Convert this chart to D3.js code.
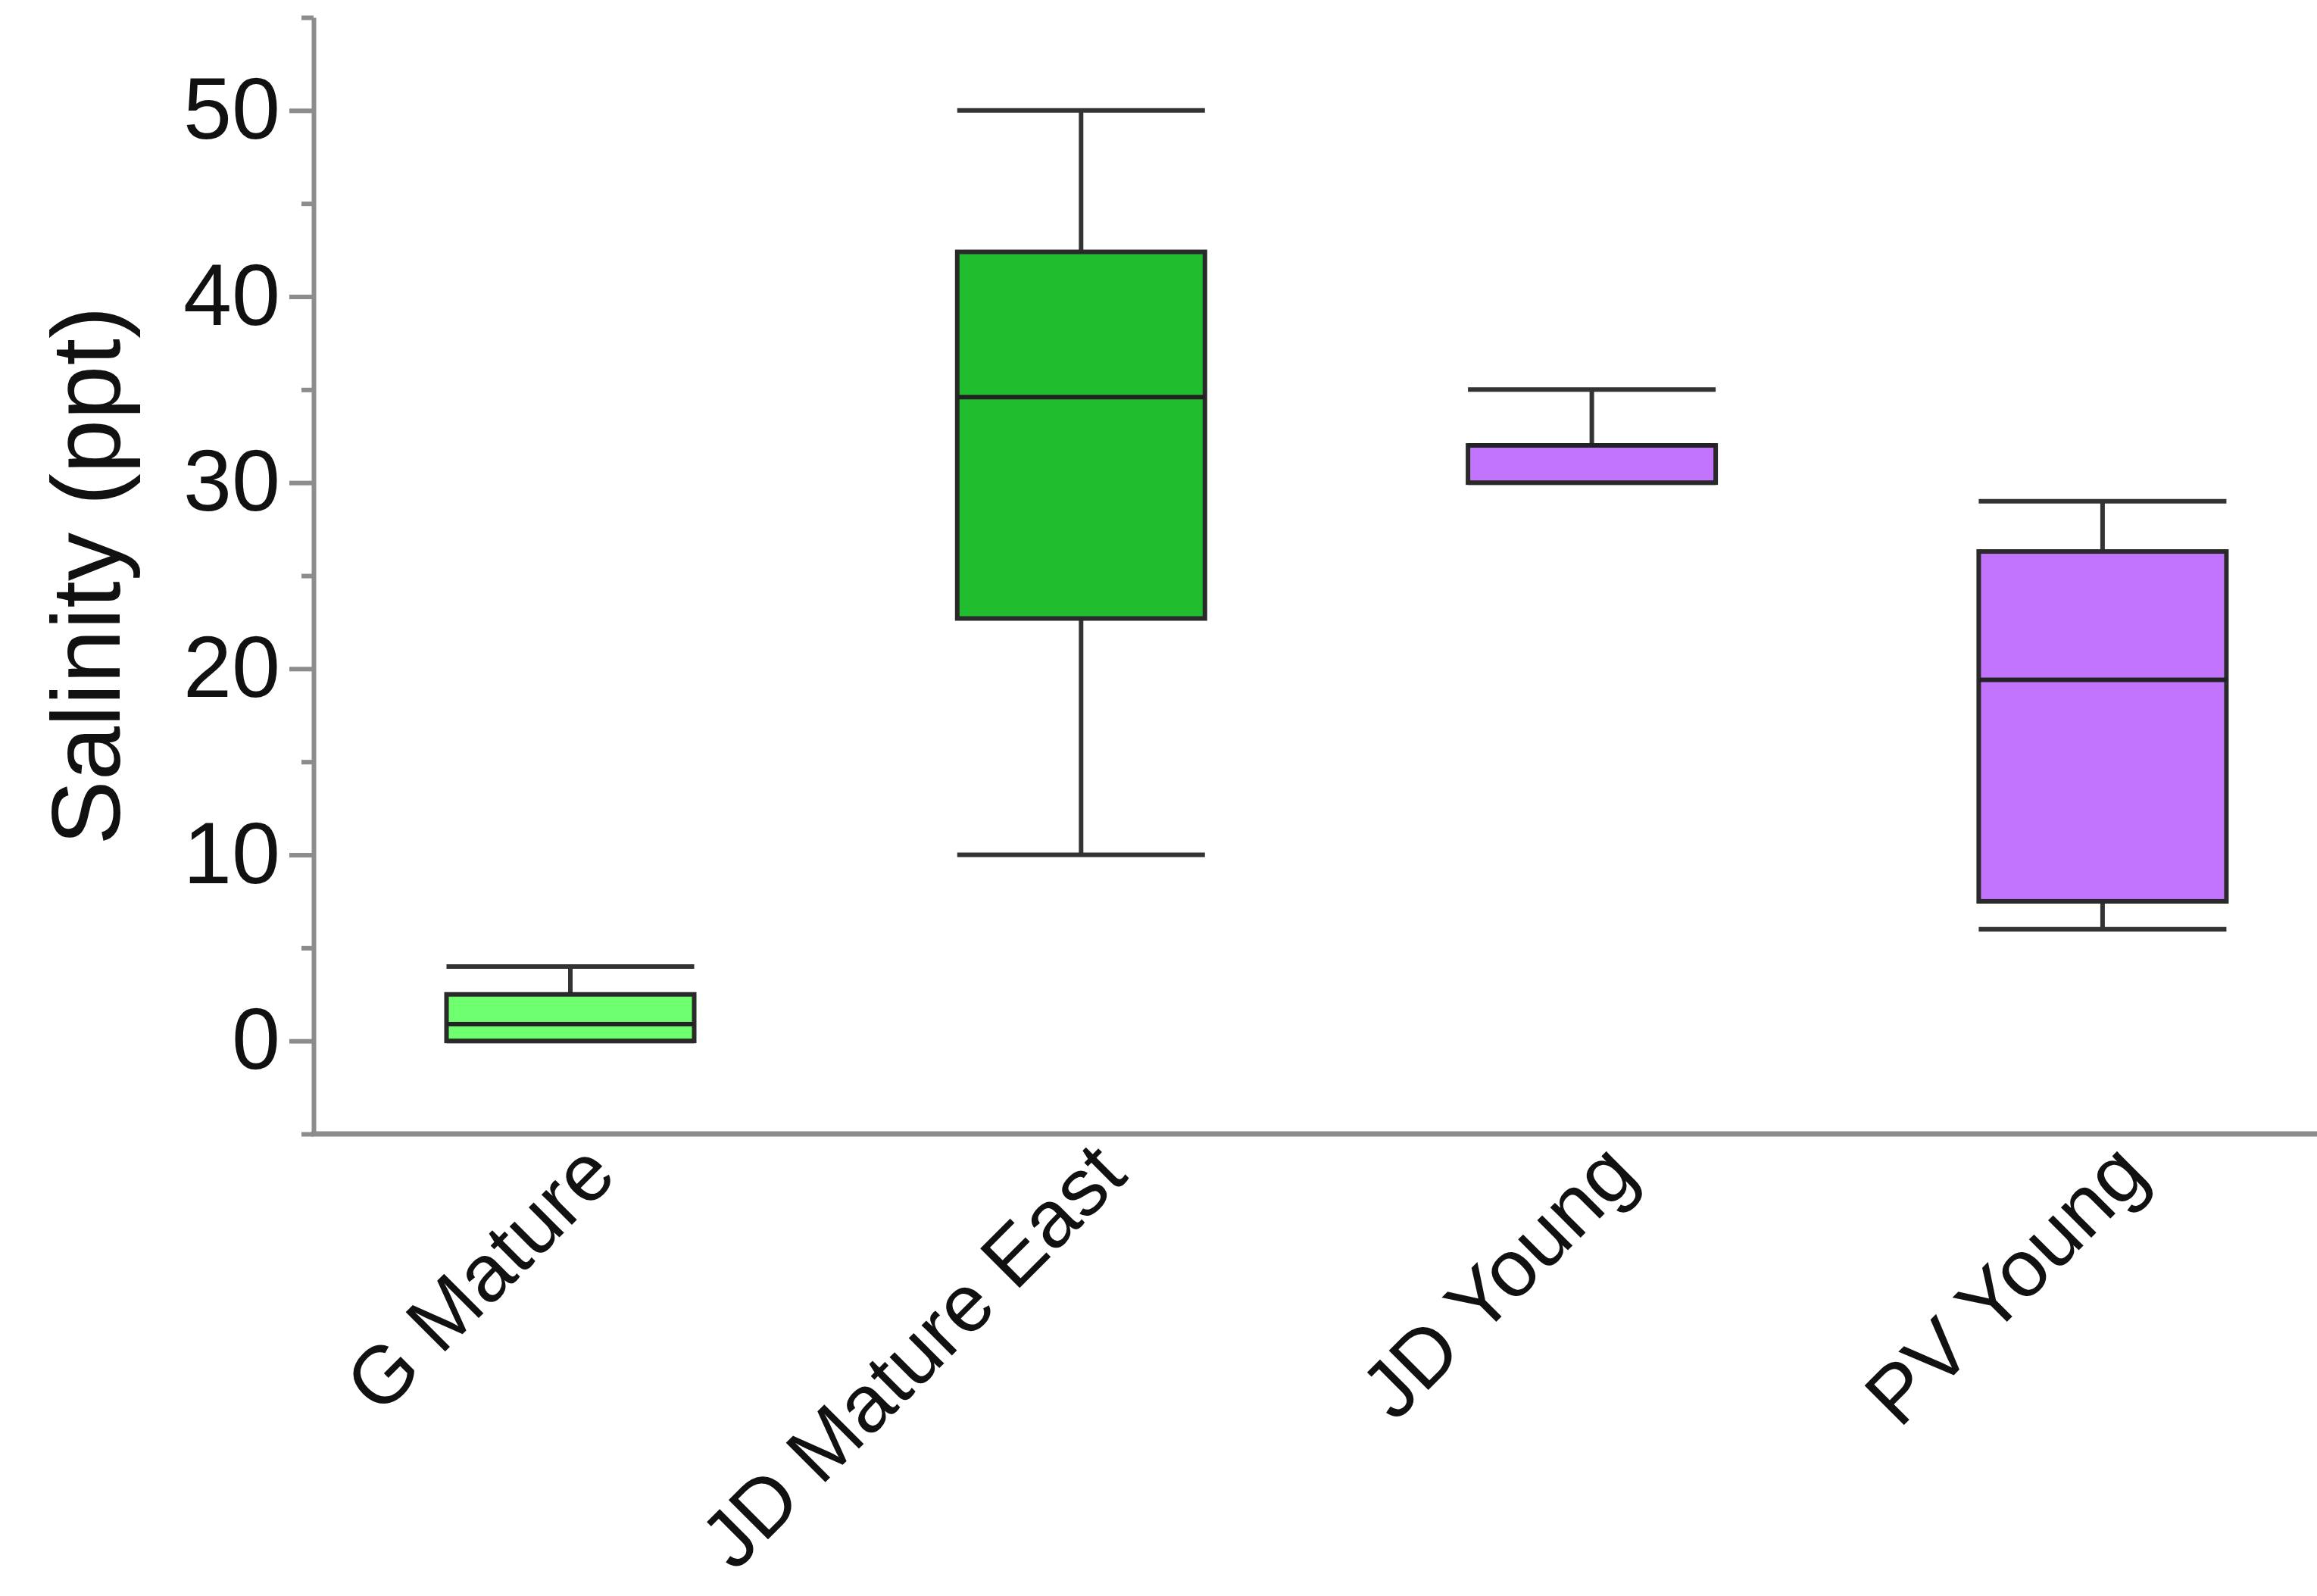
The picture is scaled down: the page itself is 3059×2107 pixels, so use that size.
<!DOCTYPE html>
<html>
<head>
<meta charset="utf-8">
<script src="https://cdn.jsdelivr.net/npm/d3@7"></script>
<style>
  body { margin: 0; background: #fff; }
  svg text { font-family: "Liberation Sans", Arial, sans-serif; fill: #111; }
</style>
</head>
<body>
<div id="chart"></div>
<script>
// box plot values (ppt)
const categories = ["G Mature", "JD Mature East", "JD Young", "PV Young"]
const whiskerLow = [0, 10, 30, 6]
const q1 = [0, 22.7, 30, 7.5]
const medians = [0.9, 34.6, 32, 19.4]
const q3 = [2.5, 42.4, 32, 26.3]
const whiskerHigh = [4, 50, 35, 29]
const boxColors = ["#6dff6d", "#20bd2e", "#c274ff", "#c274ff"]
const majorTicks = [0, 10, 20, 30, 40, 50]
const minorTicks = [-5, 5, 15, 25, 35, 45, 55]

const width = 3059, height = 2107
const plot = { left: 414, top: 23, bottom: 1497 }
const step = 674.3
const boxWidth = 327

const svg = d3.select("#chart").append("svg")
  .attr("width", width)
  .attr("height", height)

const y = d3.scaleLinear().domain([-5, 55]).range([plot.bottom, plot.top])
//first box centre sits at 753
const x = d3.scalePoint().domain(categories)
  .range([753 - step / 2, 753 - step / 2 + step * categories.length]).padding(0.5)

// minor ticks first, then the labelled axis on top
svg.append("g")
  .attr("class", "minor")
  .attr("transform", "translate(" + plot.left + ",0)")
  .call(d3.axisLeft(y).tickValues(minorTicks).tickSize(16).tickFormat(""))

const yAxis = svg.append("g")
  .attr("class", "yAxis")
  .attr("transform", "translate(" + plot.left + ",0)")
  .call(d3.axisLeft(y).tickValues(majorTicks).tickSize(32).tickSizeOuter(0).tickPadding(12))

yAxis.selectAll("text").style("font-size", "115px")

svg.selectAll(".minor .domain").remove()
svg.selectAll(".yAxis path, .yAxis line, .minor line")
  .attr("stroke", "#8c8c8c")
  .attr("stroke-width", 6)

//x axis line, labels rotated by hand
const xAxis = svg.append("g")
  .attr("class", "xAxis")
  .attr("transform", "translate(0," + plot.bottom + ")")
  .call(d3.axisBottom(x).tickSize(0).tickSizeOuter(0).tickFormat(""))

xAxis.select(".domain").attr("stroke", "#8c8c8c").attr("stroke-width", 7)
  .attr("d", "M" + (plot.left - 3) + ",0H" + width)

svg.append("g").selectAll("text")
  .data(categories)
  .join("text")
  .attr("transform", d => "translate(" + (x(d) + 64) + "," + (plot.bottom + 58) + ") rotate(-45)")
  .attr("text-anchor", "end")
  .style("font-size", "107px")
  .text(d => d)

// y title
svg.append("text")
  .attr("transform", "translate(158," + ((plot.top + plot.bottom) / 2) + ") rotate(-90)")
  .attr("text-anchor", "middle")
  .style("font-size", "128px")
  .text("Salinity (ppt)")

//the boxes
const boxes = svg.append("g").selectAll("g")
  .data(categories)
  .join("g")

boxes.append("line")
  .attr("x1", d => x(d)).attr("x2", d => x(d))
  .attr("y1", (d, i) => y(whiskerHigh[i])).attr("y2", (d, i) => y(q3[i]))
  .attr("stroke", "#333").attr("stroke-width", 6)

boxes.append("line")
  .attr("x1", d => x(d)).attr("x2", d => x(d))
  .attr("y1", (d, i) => y(q1[i])).attr("y2", (d, i) => y(whiskerLow[i]))
  .attr("stroke", "#333").attr("stroke-width", 6)

boxes.append("line")
  .attr("x1", d => x(d) - boxWidth / 2).attr("x2", d => x(d) + boxWidth / 2)
  .attr("y1", (d, i) => y(whiskerHigh[i])).attr("y2", (d, i) => y(whiskerHigh[i]))
  .attr("stroke", "#333").attr("stroke-width", 6)

boxes.append("line")
  .attr("x1", d => x(d) - boxWidth / 2).attr("x2", d => x(d) + boxWidth / 2)
  .attr("y1", (d, i) => y(whiskerLow[i])).attr("y2", (d, i) => y(whiskerLow[i]))
  .attr("stroke", "#333").attr("stroke-width", 6)

boxes.append("rect")
  .attr("x", d => x(d) - boxWidth / 2)
  .attr("width", boxWidth)
  .attr("y", (d, i) => y(q3[i]))
  .attr("height", (d, i) => y(q1[i]) - y(q3[i]))
  .attr("fill", (d, i) => boxColors[i])
  .attr("stroke", "#2a2a2a").attr("stroke-width", 6)

boxes.append("line")
  .attr("x1", d => x(d) - boxWidth / 2).attr("x2", d => x(d) + boxWidth / 2)
  .attr("y1", (d, i) => y(medians[i])).attr("y2", (d, i) => y(medians[i]))
  .attr("stroke", "#222").attr("stroke-width", 6)
</script>
</body>
</html>
